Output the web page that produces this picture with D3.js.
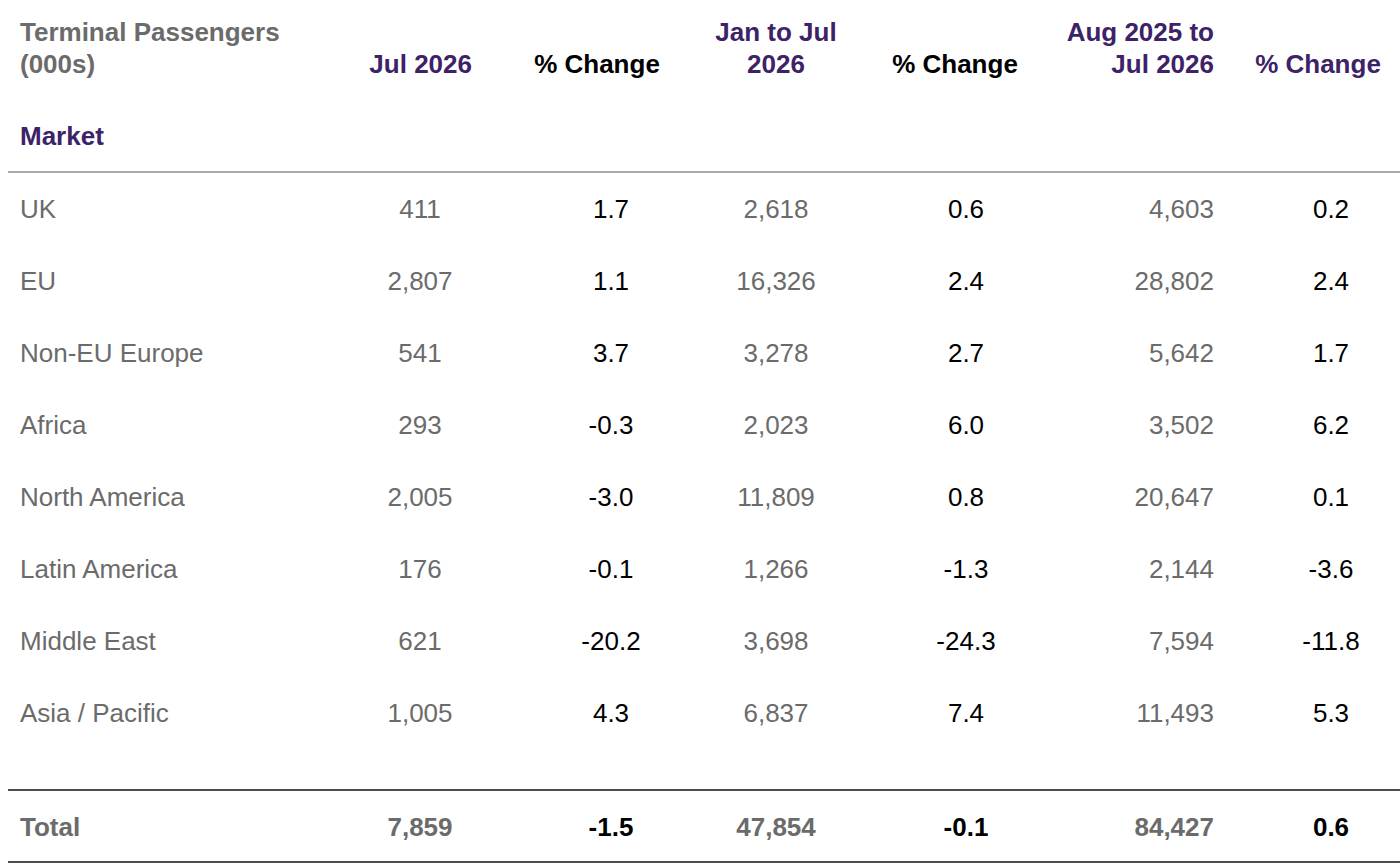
<!DOCTYPE html><html><head><meta charset="utf-8">
<script src="https://cdn.jsdelivr.net/npm/d3@7"></script>
<style>body{margin:0;background:#fff}svg{font-family:"Liberation Sans",Arial,sans-serif}</style></head><body>
<svg id="c" width="1400" height="868"></svg>
<script>
const markets=["UK","EU","Non-EU Europe","Africa","North America","Latin America","Middle East","Asia / Pacific"];
const jul=["411","2,807","541","293","2,005","176","621","1,005"];
const julChg=["1.7","1.1","3.7","-0.3","-3.0","-0.1","-20.2","4.3"];
const ytd=["2,618","16,326","3,278","2,023","11,809","1,266","3,698","6,837"];
const ytdChg=["0.6","2.4","2.7","6.0","0.8","-1.3","-24.3","7.4"];
const r12=["4,603","28,802","5,642","3,502","20,647","2,144","7,594","11,493"];
const r12Chg=["0.2","2.4","1.7","6.2","0.1","-3.6","-11.8","5.3"];
const total=["Total","7,859","-1.5","47,854","-0.1","84,427","0.6"];
const headers=[["Terminal Passengers","(000s)"],["Jul 2026"],["% Change"],["Jan to Jul","2026"],["% Change"],["Aug 2025 to","Jul 2026"],["% Change"]];
const grey="#6b6b6b",purple="#3d2268",black="#000";
const FS=26;
const svg=d3.select("#c");
const cols=[{x:20,a:"start",c:grey},{x:420,a:"middle",c:grey},{x:611,a:"middle",c:black},{x:776,a:"middle",c:grey},{x:966,a:"middle",c:black},{x:1214,a:"end",c:grey},{x:1331,a:"middle",c:black}];
const hcols=[{x:20,a:"start",c:grey},{x:472,a:"end",c:purple},{x:597,a:"middle",c:black},{x:776,a:"middle",c:purple},{x:955,a:"middle",c:black},{x:1214,a:"end",c:purple},{x:1318,a:"middle",c:purple}];
headers.forEach((h,i)=>{const lines=h.length===1?[null,h[0]]:h;
 lines.forEach((t,j)=>{if(t)svg.append("text").attr("x",hcols[i].x).attr("y",41+j*32).attr("text-anchor",hcols[i].a).attr("fill",hcols[i].c).attr("font-weight","bold").attr("font-size",FS).text(t);});});
svg.append("text").attr("x",20).attr("y",145).attr("fill",purple).attr("font-weight","bold").attr("font-size",FS).text("Market");
const y=d3.scaleBand().domain(markets).range([173,749]);
const data=markets.map((m,i)=>[m,jul[i],julChg[i],ytd[i],ytdChg[i],r12[i],r12Chg[i]]);
data.forEach(row=>row.forEach((v,i)=>svg.append("text").attr("x",cols[i].x).attr("y",y(row[0])+y.bandwidth()/2+9).attr("text-anchor",cols[i].a).attr("fill",cols[i].c).attr("font-size",FS).text(v)));
total.forEach((v,i)=>svg.append("text").attr("x",cols[i].x).attr("y",836).attr("text-anchor",cols[i].a).attr("fill",cols[i].c).attr("font-weight","bold").attr("font-size",FS).text(v));
[[172,"#555",1],[790,"#111",1.5],[862,"#111",1.5]].forEach(([yy,c,w])=>svg.append("line").attr("x1",8).attr("x2",1400).attr("y1",yy).attr("y2",yy).attr("stroke",c).attr("stroke-width",w));
</script></body></html>
